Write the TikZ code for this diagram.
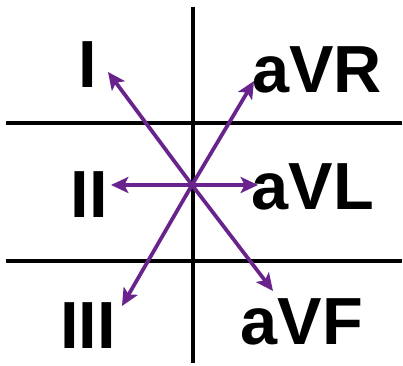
\documentclass[tikz,border=0pt]{standalone}
\usepackage{fontspec}
\setmainfont{Liberation Sans}
\usepackage{tikz}
\usetikzlibrary{arrows.meta, positioning, calc}
\definecolor{leadpurple}{RGB}{104,36,140}
\tikzset{
  gridline/.style={line width=2.3pt,color=black},
  leadarr/.style={-{Stealth[length=13pt,width=12pt,inset=3pt]},line width=2.8pt,color=leadpurple},
  leadlbl/.style={inner sep=0pt,font=\fontsize{50}{52}\selectfont\bfseries}
}

\begin{document}
\begin{tikzpicture}[x=0.75pt,y=-0.75pt]
  \useasboundingbox (0,0) rectangle (403,366);

  % grid
  \coordinate (vtop) at (193,7);
  \coordinate (vbot) at (193,363);
  \coordinate (h1l) at (6,123);
  \coordinate (h1r) at (402,123);
  \coordinate (h2l) at (6,261);
  \coordinate (h2r) at (402,261);
  \draw[gridline] (vtop) -- (vbot);
  \draw[gridline] (h1l) -- (h1r);
  \draw[gridline] (h2l) -- (h2r);

  % lead labels
  \node[leadlbl] (leadI) at (88,65) {I};
  \node[leadlbl] (leadII) at (89,195) {II};
  \node[leadlbl] (leadIII) at (88,326) {III};
  \node[leadlbl] (aVR) at (317,70) {aVR};
  \node[leadlbl] (aVL) at (313,187) {aVL};
  \node[leadlbl] (aVF) at (302,322) {aVF};

  % axes
  \coordinate (ctr) at (192,185);
  \coordinate (tipI) at (108,72);
  \coordinate (tipII) at (111,185);
  \coordinate (tipIII) at (122,306);
  \coordinate (tipR) at (254,81);
  \coordinate (tipL) at (258,185);
  \coordinate (tipF) at (273,291);
  \draw[leadarr] (ctr) -- (tipI);
  \draw[leadarr] (ctr) -- (tipII);
  \draw[leadarr] (ctr) -- (tipIII);
  \draw[leadarr] (ctr) -- (tipR);
  \draw[leadarr] (ctr) -- (tipL);
  \draw[leadarr] (ctr) -- (tipF);
\end{tikzpicture}
\end{document}
